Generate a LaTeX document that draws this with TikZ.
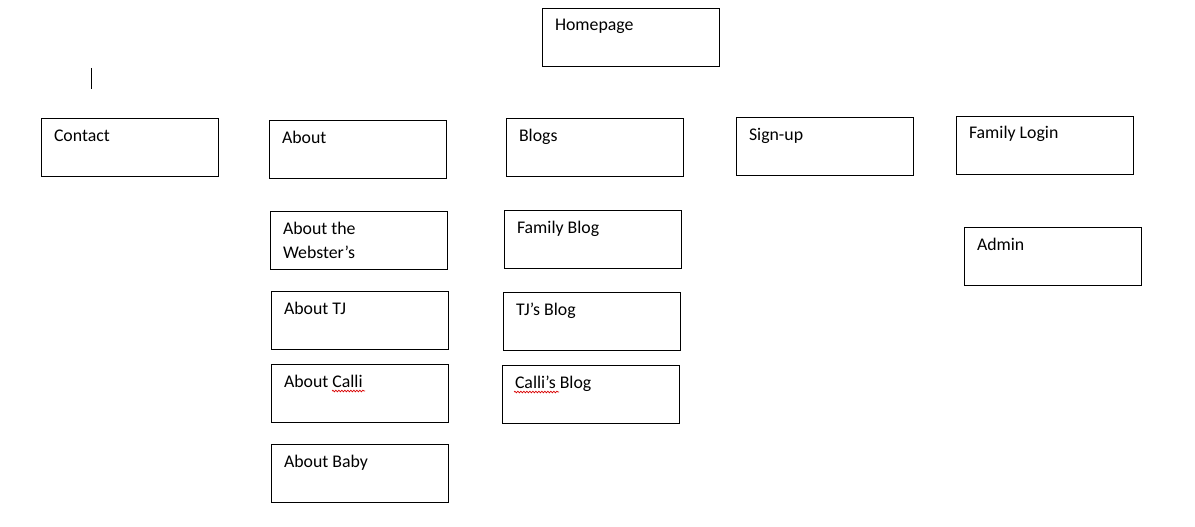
\documentclass[tikz,border=0pt]{standalone}
\usepackage{fontspec}
\setmainfont{Carlito}
\usetikzlibrary{positioning,calc,decorations.pathmorphing}

\begin{document}
\begin{tikzpicture}[
    x=1pt, y=-1pt,
    % Style definitions
    page/.style={rectangle, draw=black, line width=1pt, anchor=north west,
        minimum width=177pt, minimum height=58pt, inner xsep=12.5pt, inner ysep=0pt,
        text width=152pt, align=flush left, text height=22.5pt, text depth=35.5pt,
        font=\fontsize{17.8}{24}\selectfont},
    spell/.style={draw=red!85!black, line width=0.7pt,
        decorate, decoration={snake, amplitude=0.8pt, segment length=3pt}}
]
\useasboundingbox (0,0) rectangle (1195,527);

% Top level
\node[page] (home) at (542,8) {Homepage};

% Main menu
\node[page] (contact) at (41,118) {Contact};
\node[page] (about) at (269,120) {About};
\node[page] (blogs) at (506,118) {Blogs};
\node[page] (signup) at (736,117) {Sign-up};
\node[page] (login) at (956,116) {Family Login};

% About pages
\node[page] (webster) at (270,211) {About the\\Webster’s};
\node[page] (abouttj) at (271,291) {About TJ};
\node[page] (aboutcalli) at (271,364) {About Calli};
\node[page] (aboutbaby) at (271,444) {About Baby};

% Blog pages
\node[page] (familyblog) at (504,210) {Family Blog};
\node[page] (tjblog) at (503,292) {TJ’s Blog};
\node[page] (calliblog) at (502,365) {Calli’s Blog};

% Login pages
\node[page] (admin) at (964,227) {Admin};

% Spelling marks and cursor
\draw[spell] ($(aboutcalli.north west)+(61,27)$) -- ++(33,0);
\draw[spell] ($(calliblog.north west)+(12,27)$) -- ++(45,0);
\draw[line width=1pt] (91,68) -- (91,89);

\end{tikzpicture}
\end{document}
